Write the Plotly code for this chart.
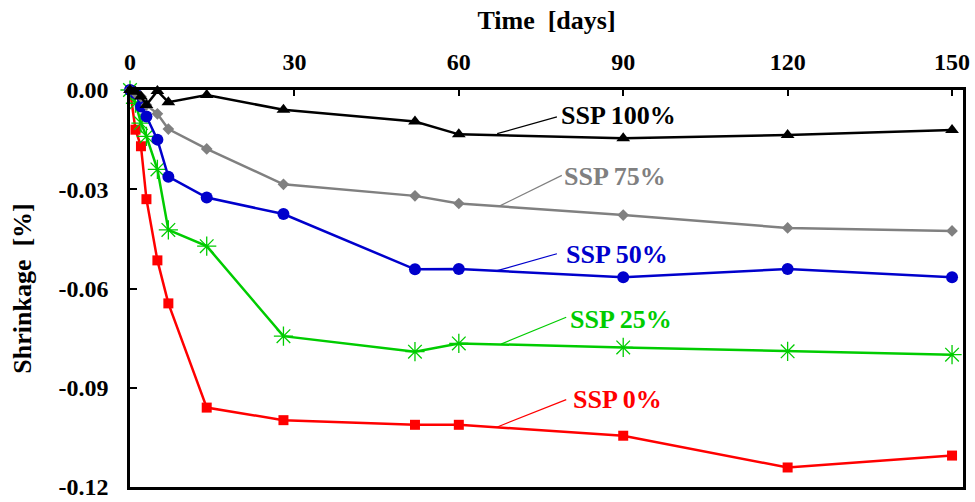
import plotly.graph_objects as go

# Drying time (days) at each measurement
days = [0, 1, 2, 3, 5, 7, 14, 28, 52, 60, 90, 120, 150]

# Shrinkage (%) for each SSP replacement level
ssp0 = [0, -0.012, -0.017, -0.033, -0.0515, -0.0645, -0.096, -0.0998,
        -0.1012, -0.1012, -0.1045, -0.1141, -0.1105]
ssp25 = [0, -0.004, -0.010, -0.014, -0.024, -0.0423, -0.0472, -0.0744,
         -0.0791, -0.0766, -0.0778, -0.0790, -0.0800]
ssp50 = [0, -0.001, -0.005, -0.008, -0.0150, -0.0262, -0.0325, -0.0375,
         -0.0542, -0.0541, -0.0566, -0.0541, -0.0566]
ssp75 = [0, -0.001, -0.002, -0.0045, -0.0072, -0.0118, -0.0178, -0.0285,
         -0.0320, -0.0343, -0.0378, -0.0417, -0.0426]
ssp100 = [0, -0.0005, -0.002, -0.0045, -0.0003, -0.0037, -0.0015, -0.0060,
          -0.0095, -0.0134, -0.0146, -0.0136, -0.0121]

series_names = ["SSP 0%", "SSP 25%", "SSP 50%", "SSP 75%", "SSP 100%"]
series_values = [ssp0, ssp25, ssp50, ssp75, ssp100]

x_ticks = [0, 30, 60, 90, 120, 150]
y_ticks = [0.0, -0.03, -0.06, -0.09, -0.12]
y_tick_text = ["0.00", "-0.03", "-0.06", "-0.09", "-0.12"]

# Label text anchors (day, shrinkage) and leader line end points
label_pos = [(80.5, -0.0936), (79.9, -0.0693), (79.2, -0.0498),
             (78.8, -0.0261), (78.3, -0.0078)]
leader_from = [(66.8, -0.1020), (67.7, -0.0768), (67.0, -0.0546),
               (67.4, -0.0351), (67.0, -0.0132)]
leader_to = [(79.6, -0.0936), (79.6, -0.0687), (77.9, -0.0495),
             (78.8, -0.0258), (77.9, -0.0081)]

colors = ["#FF0000", "#00CC00", "#0000CC", "#808080", "#000000"]
symbols = ["square", "asterisk-open", "circle", "diamond", "triangle-up"]
sizes = [10, 16, 12, 9, 12]

FONT = "Liberation Serif"

fig = go.Figure()
for name, vals, col, sym, sz in zip(series_names, series_values, colors, symbols, sizes):
    fig.add_trace(go.Scatter(
        x=days, y=vals, name=name, mode="lines+markers",
        line=dict(color=col, width=2.5),
        marker=dict(symbol=sym, size=sz, color=col,
                    line=dict(color=col, width=1.3 if sym == "asterisk-open" else 0)),
        cliponaxis=False, showlegend=False,
    ))

for name, col, (tx, ty), (x0, y0), (x1, y1) in zip(series_names, colors, label_pos,
                                                    leader_from, leader_to):
    fig.add_shape(type="line", x0=x0, y0=y0, x1=x1, y1=y1, xref="x", yref="y",
                  line=dict(color=col, width=1.2))
    fig.add_annotation(x=tx, y=ty, xref="x", yref="y", text=name, showarrow=False,
                       xanchor="left", yanchor="middle",
                       font=dict(family=FONT, size=26, color=col, weight="bold"))

fig.update_layout(
    width=975, height=502,
    margin=dict(l=130, r=12, t=90, b=15),
    paper_bgcolor="white", plot_bgcolor="white",
    font=dict(family=FONT, color="black"),
)
fig.update_xaxes(
    range=[0, 152], side="top", automargin=False,
    tickvals=x_ticks, ticks="inside", ticklen=6, tickwidth=2, tickcolor="black",
    showline=True, linewidth=2.5, linecolor="black", mirror=True,
    showgrid=False, zeroline=False,
    tickfont=dict(family=FONT, size=24, weight="bold"), ticklabelstandoff=8,
    ticklabeloverflow="allow",
    title=dict(text="Time  [days]", font=dict(family=FONT, size=26, weight="bold"),
               standoff=12),
)
fig.update_yaxes(
    range=[-0.12, 0], automargin=False,
    tickvals=y_ticks, ticktext=y_tick_text,
    ticks="inside", ticklen=7, tickwidth=2, tickcolor="black",
    showline=True, linewidth=2.5, linecolor="black", mirror=True,
    showgrid=False, zeroline=False,
    tickfont=dict(family=FONT, size=24, weight="bold"), ticklabelstandoff=14,
    ticklabeloverflow="allow",
    title=dict(text="Shrinkage  [%]", font=dict(family=FONT, size=26, weight="bold"),
               standoff=20),
)

fig.write_html("out.html")
